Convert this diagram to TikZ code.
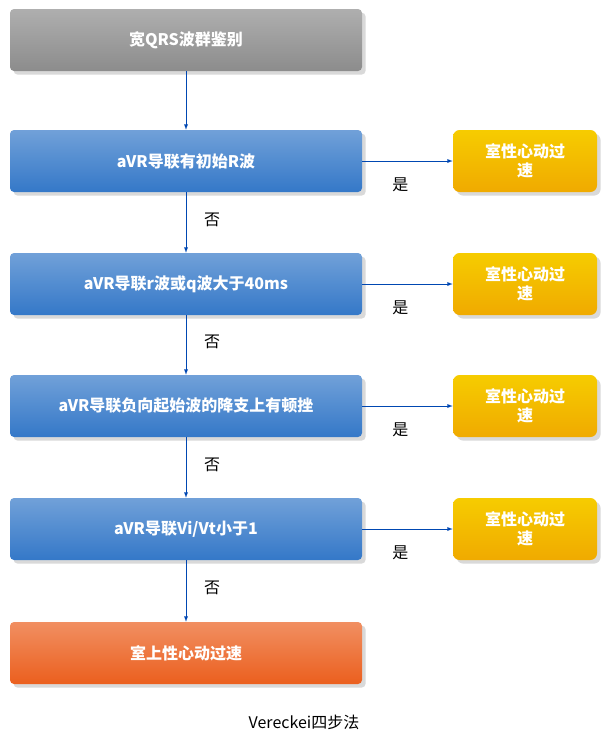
\documentclass[tikz,border=0pt]{standalone}
\usepackage{fontspec}
\setmainfont{Noto Sans CJK SC}
\usetikzlibrary{positioning,shadows}
\begin{document}
\begin{tikzpicture}[x=0.75pt,y=-0.75pt,
		        every node/.style = {
		        	font = \large
		        },
		        stepbox/.style = {
		        rounded corners = 3pt,
		        minimum width = 352*0.75pt,
		        minimum height = 62*0.75pt,
		        text = white,
		        font = \large\bfseries,
		        drop shadow = {opacity = 0.3},
		        top color = #1!70!white,
		        bottom color = #1
		    },
		        resultbox/.style = {
		        rounded corners = 5pt,
		        minimum width = 144*0.75pt,
		        minimum height = 62*0.75pt,
		        align = center,
		        text = white,
		        font = \large\bfseries,
		        drop shadow = {opacity = 0.3},
		        top color = goldb!60!yellow,
		        bottom color = goldb
		    },
		        arrow/.style = {
		        draw = blue!60!cyan!70!black,
		        ->, >=latex
		    }]
		    	\definecolor{grayb}{RGB}{140,140,140}
		    	\definecolor{blueb}{RGB}{52,120,200}
		    	\definecolor{orangeb}{RGB}{235,95,30}
		    	\definecolor{goldb}{RGB}{240,170,0}
		    	\useasboundingbox (0, 0) rectangle (608, 747);
		    	\node[stepbox = grayb] (start) at (186, 40) {宽QRS波群鉴别};
		    	\node[stepbox = blueb] (s1) at (186, 161) {aVR导联有初始R波};
		    	\node[stepbox = blueb] (s2) at (186, 284) {aVR导联r波或q波大于40ms};
		    	\node[stepbox = blueb] (s3) at (186, 406) {aVR导联负向起始波的降支上有顿挫};
		    	\node[stepbox = blueb] (s4) at (186, 529) {aVR导联Vi/Vt小于1};
		    	\node[stepbox = orangeb] (end) at (186, 653) {室上性心动过速};
		    	\foreach \i in {1, ..., 4} {
		    		\node[resultbox] (r\i) at (525, 0 |- s\i) {室性心动过\\速};
		    		\draw[arrow] (s\i) -- node[pos = 0.42, below = 9pt, black] {是} (r\i);
		    	}
		    	\draw[arrow] (start) -- (s1);
		    	\draw[arrow] (s1) -- node[right = 10pt, pos = 0.45] {否} (s2);
		    	\draw[arrow] (s2) -- node[right = 10pt, pos = 0.45] {否} (s3);
		    	\draw[arrow] (s3) -- node[right = 10pt, pos = 0.45] {否} (s4);
		    	\draw[arrow] (s4) -- node[right = 10pt, pos = 0.45] {否} (end);
		    	\node (caption) at (304, 722) {Vereckei四步法};
	\end{tikzpicture}
\end{document}
